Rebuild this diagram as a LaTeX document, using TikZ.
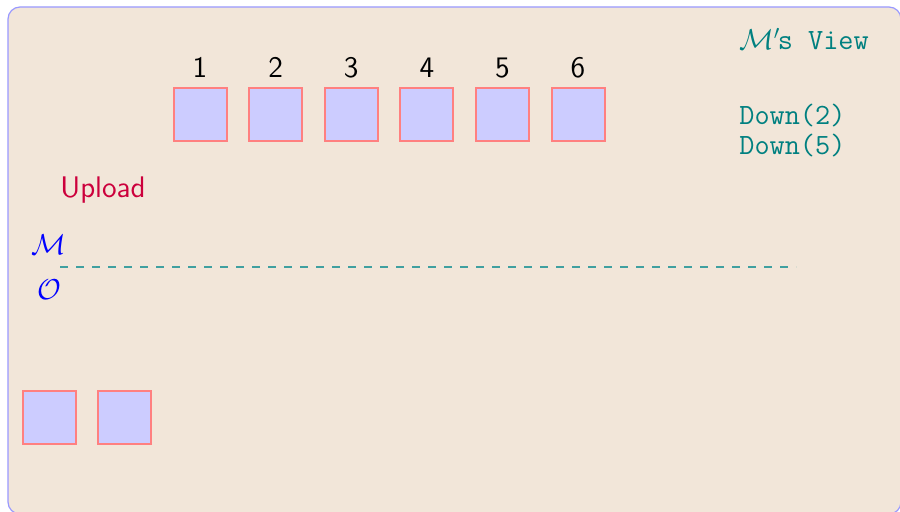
\documentclass[tikz,border=0pt]{standalone}
\usepackage{fontspec}
\usetikzlibrary{calc}
\definecolor{bgbeige}{RGB}{242,230,217}
\definecolor{framebl}{RGB}{153,153,255}
\definecolor{boxfill}{RGB}{204,204,255}
\definecolor{boxline}{RGB}{255,128,128}
\definecolor{tealtext}{RGB}{0,128,128}
\definecolor{dashteal}{RGB}{64,160,160}
\definecolor{uploadred}{RGB}{204,0,60}
\begin{document}
\begin{tikzpicture}[x=0.5pt,y=-0.5pt,
  cell/.style={draw=boxline,fill=boxfill,line width=1pt,minimum size=26.5pt,inner sep=0pt,outer sep=0pt},
  lbl/.style={font=\fontsize{14.9}{17}\sffamily,anchor=base,inner sep=0pt},
  mono/.style={font=\fontsize{14.7}{17}\ttfamily,text=tealtext,anchor=base west,inner sep=0pt},
  party/.style={text=blue,anchor=base west,inner sep=0pt,font=\fontsize{14.7}{17}\selectfont}]
\useasboundingbox (0,0) rectangle (900,512);
\fill[white] (0,0) rectangle (900,512);
\draw[framebl,fill=bgbeige,line width=0.6pt,rounded corners=6pt] (8,7) rectangle (901,514);
% top row
\foreach \i/\x in {1/200,2/275.6,3/351.2,4/426.8,5/502.4,6/578}{
  \node[cell] (c\i) at (\x,115) {};
  \node[lbl] (l\i) at (\x,78) {\i};
}
% bottom cells
\node[cell] (b1) at (49,418) {};
\node[cell] (b2) at (124.5,418) {};
% labels
\node[lbl,anchor=base west,text=uploadred] (up) at (60,198) {Upload};
\node[party] (M) at (31,255) {$\mathcal{M}$};
\node[party] (O) at (37,300) {$\mathcal{O}$};
\coordinate (d0) at (60,267);
\coordinate (d1) at (796,267);
\draw[dashteal,line width=1pt,dash pattern=on 4pt off 4pt] (d0) -- (d1);
\node[mono] (view) at (739,50) {$\mathcal{M}'$\kern-1.3pt s View};
\node[mono] (dn2) at (739,125) {Down(2)};
\node[mono] (dn5) at (739,155) {Down(5)};
\end{tikzpicture}
\end{document}
